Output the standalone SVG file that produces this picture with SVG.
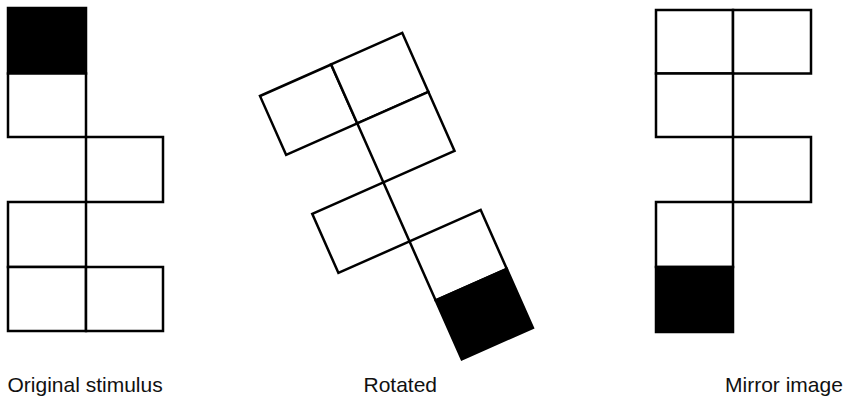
<svg xmlns="http://www.w3.org/2000/svg" width="847" height="399" viewBox="0 0 847 399">
  <style>
    .c { fill: #ffffff; stroke: #000000; stroke-width: 2.5; stroke-linejoin: miter; }
    .b { fill: #000000; stroke: #000000; stroke-width: 2.5; }
    .lbl { font-family: "Liberation Sans", Arial, sans-serif; font-size: 21px; fill: #111111; }
  </style>
  <rect width="847" height="399" fill="#ffffff"/>

  <g id="original">
    <rect class="b" x="8" y="8" width="78" height="65.5"/>
    <rect class="c" x="8" y="73.5" width="78" height="63.5"/>
    <rect class="c" x="86" y="137" width="77" height="65"/>
    <rect class="c" x="8" y="202" width="78" height="65"/>
    <rect class="c" x="8" y="267" width="78" height="64"/>
    <rect class="c" x="86" y="267" width="77" height="64"/>
  </g>

  <g id="rotated" transform="translate(260,96) rotate(-23.9)">
    <rect class="c" x="0" y="0" width="77.8" height="64.5"/>
    <rect class="c" x="77.8" y="0" width="77.8" height="64.5"/>
    <rect class="c" x="77.8" y="64.5" width="77.8" height="64.5"/>
    <rect class="c" x="0" y="129" width="77.8" height="64.5"/>
    <rect class="c" x="77.8" y="193.5" width="77.8" height="64.5"/>
    <rect class="b" x="77.8" y="258" width="77.8" height="64.5"/>
  </g>

  <g id="mirror">
    <rect class="c" x="656" y="10" width="77" height="63.5"/>
    <rect class="c" x="733" y="10" width="78" height="63.5"/>
    <rect class="c" x="656" y="73.5" width="77" height="63.5"/>
    <rect class="c" x="733" y="137" width="78" height="65"/>
    <rect class="c" x="656" y="202" width="77" height="65"/>
    <rect class="b" x="656" y="267" width="77" height="65"/>
  </g>

  <g id="labels">
    <text class="lbl" x="7.5" y="391.5">Original stimulus</text>
    <text class="lbl" x="363.5" y="391.5">Rotated</text>
    <text class="lbl" x="725" y="391.5">Mirror image</text>
  </g>
</svg>
